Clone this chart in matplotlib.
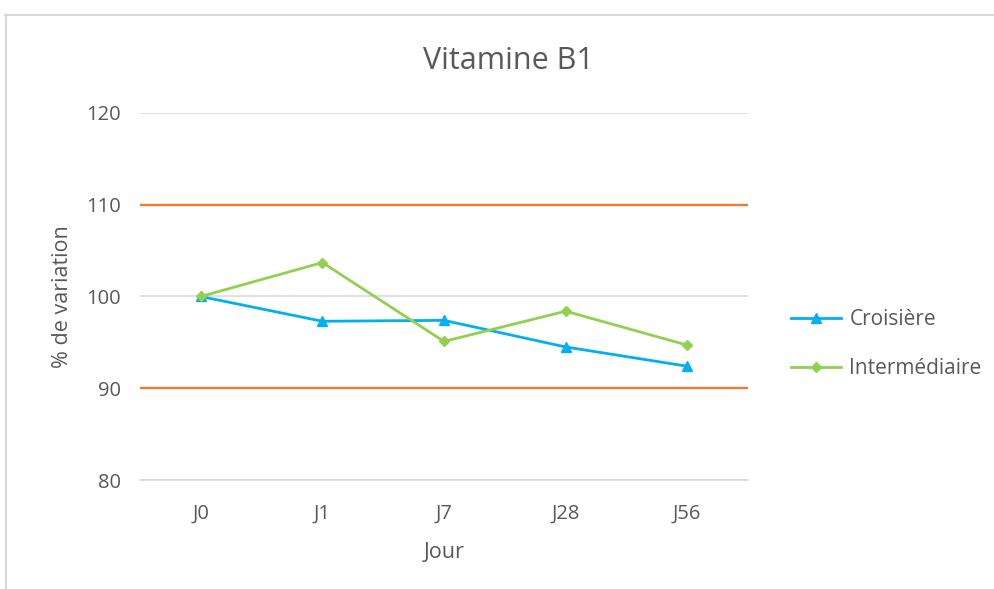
import matplotlib
matplotlib.use('Agg')

import matplotlib.pyplot as plt
from matplotlib.lines import Line2D

jours = ["J0", "J1", "J7", "J28", "J56"]
croisiere = [100.0, 97.3, 97.4, 94.5, 92.4]
intermediaire = [100.0, 103.7, 95.1, 98.4, 94.7]
limites = [110, 90]

plt.rcParams['font.family'] = ['Open Sans', 'DejaVu Sans']
gris = '#595959'

fig = plt.figure(figsize=(9.94, 5.89), dpi=100)
ax = fig.add_axes([140 / 994, 1 - 480 / 589, 608 / 994, 367 / 589])

x = range(len(jours))
ax.set_xlim(-0.5, len(jours) - 0.5)
ax.set_ylim(80, 120)
ax.set_yticks([80, 90, 100, 110, 120])
ax.grid(axis='y', color='#d9d9d9', lw=1.1)
ax.set_axisbelow(True)

for v in limites:
    ax.axhline(v, color='#ed7d31', lw=1.7, zorder=2)

ax.plot(x, croisiere, color='#00b0f0', lw=2.0, marker='^', ms=6.5,
        label='Croisière', zorder=3)
ax.plot(x, intermediaire, color='#92d050', lw=2.0, marker='D', ms=5,
        label='Intermédiaire', zorder=3)

ax.set_xticks(list(x))
ax.set_xticklabels(jours)
ax.tick_params(length=0, labelsize=14.5, colors=gris, pad=17)
ax.tick_params(axis='y', pad=14)
for s in ['top', 'right', 'left']:
    ax.spines[s].set_visible(False)
ax.spines['bottom'].set_color('#d9d9d9')
ax.spines['bottom'].set_linewidth(1.1)

ax.set_xlabel('Jour', fontsize=15.5, color=gris, labelpad=13)
ax.set_ylabel('% de variation', fontsize=15.5, color=gris, labelpad=9)
fig.text(508 / 994, 1 - 61 / 589, 'Vitamine B1', fontsize=22, color=gris,
         ha='center', va='center')

leg = ax.legend(loc='center left', bbox_to_anchor=(1.04, 0.37), frameon=False,
                fontsize=15, labelspacing=1.35, handlelength=2.4, handletextpad=0.4)
for t in leg.get_texts():
    t.set_color(gris)

# chart area border (top and left visible)
fig.add_artist(Line2D([5 / 994, 1], [1 - 14.5 / 589, 1 - 14.5 / 589],
                      transform=fig.transFigure, color='#d9d9d9', lw=1.5))
fig.add_artist(Line2D([5.5 / 994, 5.5 / 994], [0, 1 - 14.5 / 589],
                      transform=fig.transFigure, color='#d9d9d9', lw=1.5))

fig.savefig('out.png', dpi=100)
